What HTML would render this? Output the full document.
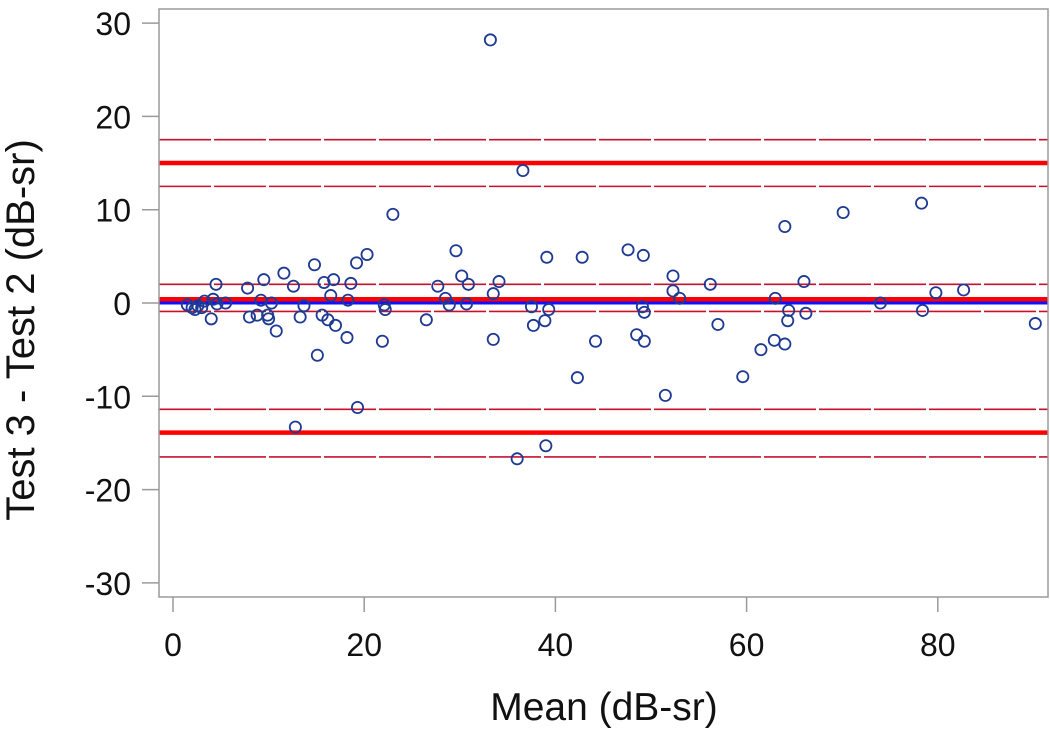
<!DOCTYPE html>
<html><head><meta charset="utf-8"><style>
html,body{margin:0;padding:0;background:#fff;}
svg{display:block;font-family:"Liberation Sans",Arial,sans-serif;}
</style></head><body>
<svg id="chart" width="1050" height="736">
<g id="lines"></g><g id="pts"></g><g id="axes"></g>
</svg>
<script>
const meanVals=[1.5,2,2.3,2.6,3,3.3,4,4.2,4.5,4.6,5.5,7.8,8,8.8,9.2,9.5,9.9,10,10.3,10.8,11.6,12.6,12.8,13.3,13.7,14.8,15.1,15.6,15.8,16.2,16.5,16.8,17,18.2,18.3,18.6,19.2,19.3,20.3,21.9,22.1,22.2,23,26.5,27.7,28.5,28.9,29.6,30.2,30.7,30.9,33.2,33.5,33.5,34.1,36,36.6,37.5,37.7,38.9,39,39.1,39.3,42.3,42.8,44.2,47.6,48.5,49.1,49.2,49.3,49.3,51.5,52.3,52.3,53,56.2,57,59.6,61.5,62.9,63,64,64,64.3,64.4,66,66.2,70.1,74,78.3,78.4,79.8,82.7,90.2];
const diffVals=[-0.2,-0.5,-0.7,-0.3,-0.5,0.2,-1.7,0.4,2,-0.1,0,1.6,-1.5,-1.3,0.3,2.5,-1.3,-1.7,0,-3,3.2,1.8,-13.3,-1.5,-0.3,4.1,-5.6,-1.3,2.2,-1.8,0.8,2.5,-2.4,-3.7,0.3,2.1,4.3,-11.2,5.2,-4.1,-0.2,-0.7,9.5,-1.8,1.8,0.5,-0.2,5.6,2.9,-0.1,2,28.2,-3.9,1,2.3,-16.7,14.2,-0.4,-2.4,-1.9,-15.3,4.9,-0.7,-8,4.9,-4.1,5.7,-3.4,-0.4,5.1,-4.1,-1,-9.9,2.9,1.3,0.5,2,-2.3,-7.9,-5,-4,0.5,8.2,-4.4,-1.9,-0.8,2.3,-1.1,9.7,0,10.7,-0.8,1.1,1.4,-2.2];
const xTicks=[0,20,40,60,80];
const yTicks=[30,20,10,0,-10,-20,-30];
const thickRed=[15.0,0.4,-13.9];
const thinRed=[17.5,12.5,2.0,-0.9,-11.4,-16.5];
const zeroLine=[0];
const NS="http://www.w3.org/2000/svg";
const L=159,R=1048,T=9,B=597;
const sx=v=>173+v*9.56, sy=v=>303-v*9.33;
function mk(t,a,p){const e=document.createElementNS(NS,t);for(const k in a)e.setAttribute(k,a[k]);p.appendChild(e);return e;}
const gl=document.getElementById('lines'),gp=document.getElementById('pts'),ga=document.getElementById('axes');
thinRed.forEach(v=>{const e=mk('line',{x1:L,x2:R,y1:sy(v),y2:sy(v),stroke:'#c8102e','stroke-width':1.6,'stroke-dasharray':'52 3'},gl);

});
zeroLine.forEach(v=>{const e=mk('line',{x1:L,x2:R,y1:sy(v),y2:sy(v),stroke:'#1010ff','stroke-width':3},gl);

});
thickRed.forEach(v=>{const e=mk('line',{x1:L,x2:R,y1:sy(v),y2:sy(v),stroke:'#ff0000','stroke-width':4.5},gl);

});
meanVals.forEach((m,i)=>{const c=mk('circle',{cx:sx(m),cy:sy(diffVals[i]),r:5.6,fill:'none',stroke:'#1f3a93','stroke-width':1.8},gp);

});
const fr=mk('rect',{x:L,y:T,width:R-L,height:B-T,fill:'none',stroke:'#9a9a9a','stroke-width':1.5},ga);


xTicks.forEach(v=>{mk('line',{x1:sx(v),x2:sx(v),y1:B,y2:B+15,stroke:'#9a9a9a','stroke-width':1.5},ga);
const t=mk('text',{x:sx(v),y:656,'text-anchor':'middle','font-size':32,fill:'#111'},ga);t.textContent=v;

});
yTicks.forEach(v=>{mk('line',{x1:142,x2:L,y1:sy(v),y2:sy(v),stroke:'#9a9a9a','stroke-width':1.5},ga);
const t=mk('text',{x:131,y:sy(v)+12,'text-anchor':'end','font-size':32,fill:'#111'},ga);t.textContent=v;

});
const xt=mk('text',{x:604,y:720,'text-anchor':'middle','font-size':39,fill:'#111'},ga);xt.textContent='Mean (dB-sr)';


const yt=mk('text',{x:0,y:0,'text-anchor':'middle','font-size':40,fill:'#111',transform:'translate(34,330) rotate(-90)'},ga);yt.textContent='Test 3 - Test 2 (dB-sr)';


</script>
</body></html>
